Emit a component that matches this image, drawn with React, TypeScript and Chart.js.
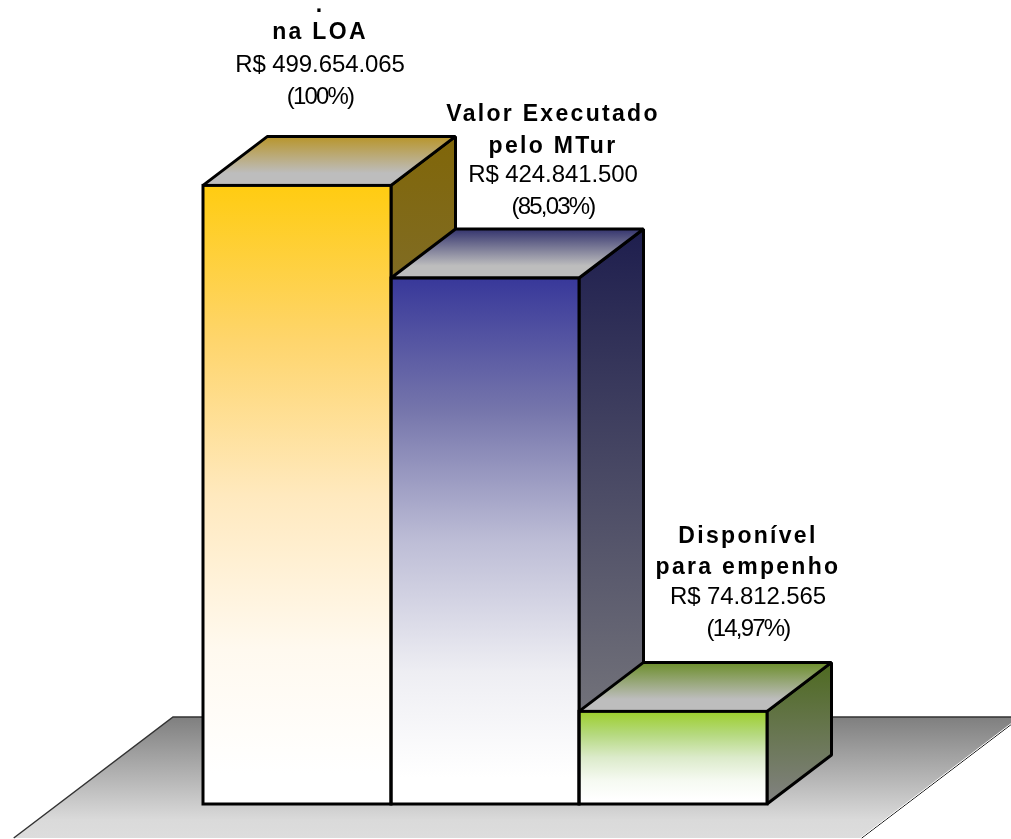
import React, { useEffect, useRef } from "react";
import { Chart, registerables } from "chart.js";

Chart.register(...registerables);

const categories = ["Valor na LOA", "Valor Executado pelo MTur", "Disponível para empenho"];
const values = [499654065, 424841500, 74812565];
const axisMax = 500000000;

const titleLines = [[".", "na LOA"], ["Valor Executado", "pelo MTur"], ["Disponível", "para empenho"]];
const amountLabels = ["R$ 499.654.065", "R$ 424.841.500", "R$ 74.812.565"];
const percentLabels = ["(100%)", "(85,03%)", "(14,97%)"];

const gradientStops = [0, 0.25, 0.5, 0.75, 0.95];
const frontColors = [
  ["#FFCC11", "#FED56C", "#FFE9BE", "#FFF9EF", "#FFFFFF"],
  ["#38389A", "#7575AB", "#BDBDD6", "#EEEEF3", "#FFFFFF"],
  ["#9DCF2B", "#B5D97F", "#DCEBCB", "#F6FAF2", "#FFFFFF"],
];
const sideColors = ["#806609", "#1E1E4E", "#4E6A20"];
const topColors = ["#B8952A", "#34346E", "#6C8E2A"];

const DEPTH_X = 64.5;
const DEPTH_Y = -49;
const LINE = 3;

// label placement: centre x of each block and the baseline of each of its four lines
const labelCentres = [320, 553, 748];
const labelBaselines = [[12, 39, 72, 104], [121, 153, 182, 214], [543, 574, 604, 636]];

const poly = (c: CanvasRenderingContext2D, pts: number[][]) => {
  c.beginPath();
  pts.forEach((p, i) => (i ? c.lineTo(p[0], p[1]) : c.moveTo(p[0], p[1])));
  c.closePath();
};

const threeD = {
  id: "threeD",
  beforeDatasetsDraw(chart: any) {
    const c: CanvasRenderingContext2D = chart.ctx;
    const area = chart.chartArea;
    const els = chart.getDatasetMeta(0).data;

    // floor
    const fy0 = area.bottom - 87;
    const fy1 = area.bottom + 34;
    const fl = area.left - 30;
    const fr = area.right + 254;
    const slope = (fy1 - fy0) * (DEPTH_X / DEPTH_Y);
    const floor = [[fl, fy0], [fr, fy0], [fr + slope, fy1], [fl + slope, fy1]];
    const fg = c.createLinearGradient(0, fy0, 0, fy1);
    fg.addColorStop(0, "#7F7F7F");
    fg.addColorStop(0.85, "#DADADA");
    fg.addColorStop(1, "#DDDDDD");
    c.save();
    poly(c, floor);
    c.fillStyle = fg;
    c.fill();
    c.strokeStyle = "#333333";
    c.lineWidth = 1.5;
    c.beginPath();
    c.moveTo(floor[3][0], floor[3][1]);
    c.lineTo(floor[0][0], floor[0][1]);
    c.lineTo(floor[1][0], floor[1][1]);
    c.stroke();
    c.strokeStyle = "#000000";
    c.lineWidth = 1;
    c.beginPath();
    c.moveTo(floor[1][0], floor[1][1]);
    c.lineTo(floor[2][0], floor[2][1]);
    c.stroke();
    c.strokeStyle = "#FFFFFF";
    c.beginPath();
    c.moveTo(floor[1][0] - 1.2, floor[1][1]);
    c.lineTo(floor[2][0] - 1.2, floor[2][1]);
    c.stroke();
    c.restore();

    // depth faces, left to right
    els.forEach((el: any, i: number) => {
      const w = el.width;
      const l = el.x - w / 2;
      const r = el.x + w / 2;
      const t = el.y;
      const b = el.base;
      c.save();
      c.lineJoin = "bevel";
      c.strokeStyle = "#000000";
      c.lineWidth = LINE;

      const sg = c.createLinearGradient(0, t + DEPTH_Y, 0, b);
      sg.addColorStop(0, sideColors[i]);
      sg.addColorStop(1, "#828282");
      poly(c, [[r, t], [r + DEPTH_X, t + DEPTH_Y], [r + DEPTH_X, b + DEPTH_Y], [r, b]]);
      c.fillStyle = sg;
      c.fill();
      c.stroke();

      const tg = c.createLinearGradient(0, t + DEPTH_Y, 0, t);
      tg.addColorStop(0, topColors[i]);
      tg.addColorStop(0.75, "#BDBDBD");
      tg.addColorStop(1, "#BDBDBD");
      poly(c, [[l, t], [l + DEPTH_X, t + DEPTH_Y], [r + DEPTH_X, t + DEPTH_Y], [r, t]]);
      c.fillStyle = tg;
      c.fill();
      c.stroke();
      c.restore();
    });
  },
  afterDatasetsDraw(chart: any) {
    const c: CanvasRenderingContext2D = chart.ctx;
    const els = chart.getDatasetMeta(0).data;
    c.save();
    c.strokeStyle = "#000000";
    c.lineWidth = LINE;
    c.lineJoin = "miter";
    els.forEach((el: any) => {
      c.strokeRect(el.x - el.width / 2, el.y, el.width, el.base - el.y);
    });
    c.restore();

    // text
    c.save();
    c.fillStyle = "#000000";
    c.textAlign = "center";
    c.textBaseline = "alphabetic";
    const put = (s: string, x: number, y: number, font: string, sp: string) => {
      c.font = font;
      (c as any).letterSpacing = sp;
      c.fillText(s, x, y);
    };
    categories.forEach((_, i) => {
      const x = labelCentres[i];
      const ys = labelBaselines[i];
      titleLines[i].forEach((s, k) => put(s, x, ys[k], 'bold 23px "Liberation Sans"', "2.3px"));
      put(amountLabels[i], x, ys[2], '24px "Liberation Sans"', "-0.1px");
      put(percentLabels[i], x, ys[3], '24px "Liberation Sans"', "-1.8px");
    });
    c.restore();
  },
};

export default function App() {
  const ref = useRef<HTMLCanvasElement>(null);
  useEffect(() => {
    document.body.style.margin = "0";
    const chart = new Chart(ref.current as HTMLCanvasElement, {
      type: "bar",
      data: {
        labels: categories,
        datasets: [
          {
            data: values,
            borderWidth: 0,
            barPercentage: 1,
            categoryPercentage: 1,
            backgroundColor: (ctx: any) => {
              const ch = ctx.chart;
              if (!ch.chartArea || ctx.dataIndex === undefined) return frontColors[0][0];
              const yS = ch.scales.y;
              const g = ch.ctx.createLinearGradient(0, yS.getPixelForValue(values[ctx.dataIndex]), 0, yS.getPixelForValue(0));
              gradientStops.forEach((s, k) => g.addColorStop(s, frontColors[ctx.dataIndex][k]));
              return g;
            },
          },
        ],
      },
      options: {
        responsive: false,
        animation: false,
        layout: { padding: { left: 203, right: 244, top: 185, bottom: 35 } },
        plugins: { legend: { display: false }, tooltip: { enabled: false }, title: { display: false } },
        scales: {
          x: { display: false },
          y: { display: false, min: 0, max: axisMax },
        },
      },
      plugins: [threeD],
    } as any);
    return () => chart.destroy();
  }, []);
  return (
    <div style={{ width: 1011, height: 839, overflow: "hidden", background: "#fff" }}>
      <canvas ref={ref} width={1011} height={839} style={{ display: "block" }} />
    </div>
  );
}
